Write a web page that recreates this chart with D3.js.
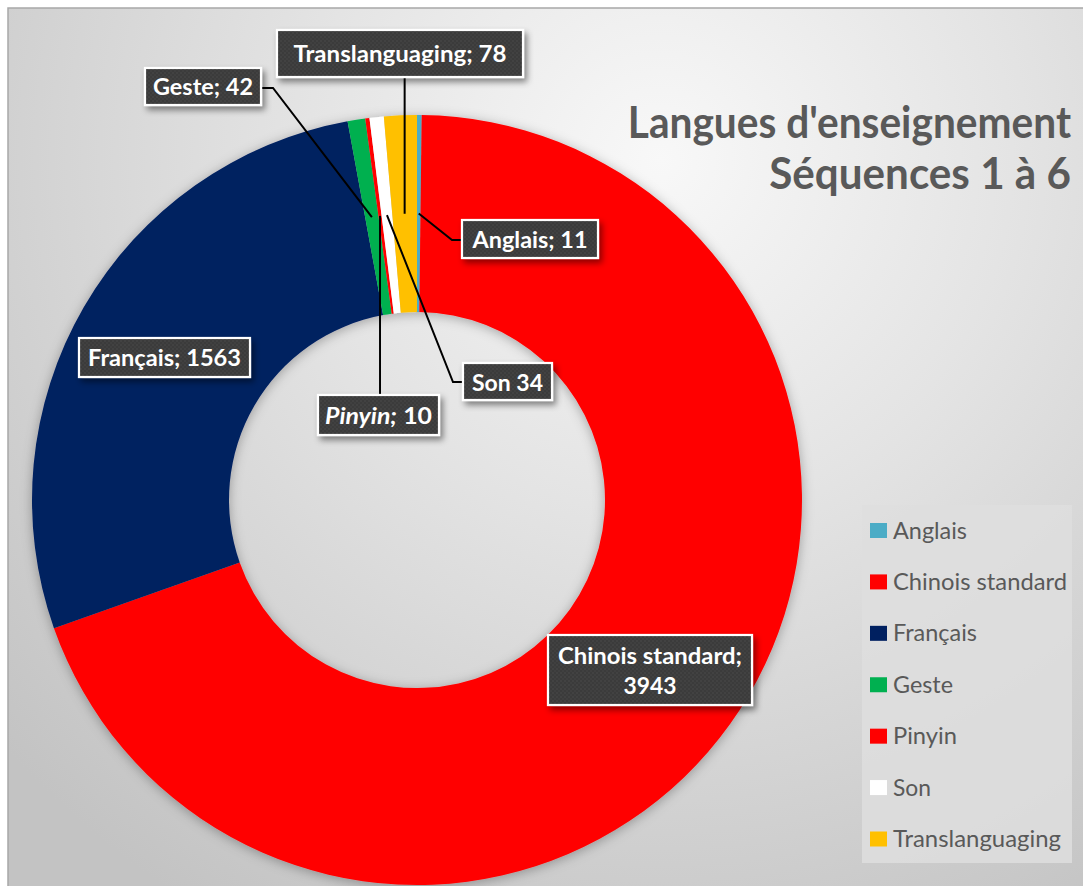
<!DOCTYPE html>
<html><head><meta charset="utf-8">
<script src="https://cdn.jsdelivr.net/npm/d3@7"></script>
<style>
html,body{margin:0;padding:0;background:#fff;}
svg{display:block;font-family:Lato,"Open Sans",sans-serif;}
</style></head>
<body>
<svg id="chart" width="1083" height="886"></svg>
<script>
// ---- data ----
const categories = ["Anglais","Chinois standard","Français","Geste","Pinyin","Son","Translanguaging"];
const values = [11, 3943, 1563, 42, 10, 34, 78];
const colors = ["#4bacc6","#ff0000","#002060","#00b050","#ff0000","#ffffff","#ffc000"];
const labelTexts = ["Anglais; 11","Chinois standard;|3943","Français; 1563","Geste; 42","Pinyin; 10","Son 34","Translanguaging; 78"];
const titleLines = ["Langues d'enseignement","Séquences 1 à 6"];

const W = 1083, H = 886;
const svg = d3.select("#chart");
const defs = svg.append("defs");

// background gradient
const rg = defs.append("radialGradient").attr("id","bg")
  .attr("gradientUnits","userSpaceOnUse").attr("cx",660).attr("cy",160).attr("r",880);
rg.append("stop").attr("offset","0").attr("stop-color","#f8f8f8");
rg.append("stop").attr("offset","0.4").attr("stop-color","#e4e4e4");
rg.append("stop").attr("offset","1").attr("stop-color","#c3c3c3");

const sh = defs.append("filter").attr("id","pieShadow").attr("x","-20%").attr("y","-20%").attr("width","140%").attr("height","140%");
sh.append("feDropShadow").attr("dx",0).attr("dy",2).attr("stdDeviation",6).attr("flood-color","#000").attr("flood-opacity",0.3);
const bsh = defs.append("filter").attr("id","boxShadow").attr("x","-20%").attr("y","-40%").attr("width","150%").attr("height","200%");
bsh.append("feDropShadow").attr("dx",3).attr("dy",4).attr("stdDeviation",3).attr("flood-color","#000").attr("flood-opacity",0.45);

const pat = defs.append("pattern").attr("id","dots").attr("width",4).attr("height",4).attr("patternUnits","userSpaceOnUse");
pat.append("rect").attr("width",4).attr("height",4).attr("fill","#3b3b3b");
pat.append("circle").attr("cx",1).attr("cy",1).attr("r",0.8).attr("fill","#4a4a4a");
pat.append("circle").attr("cx",3).attr("cy",3).attr("r",0.8).attr("fill","#474747");

// chart area
svg.append("rect").attr("x",8).attr("y",8).attr("width",W).attr("height",H)
  .attr("fill","url(#bg)").attr("stroke","#a8a8a8").attr("stroke-width",1.5);

// donut
const cx = 417, cy = 500, rOuter = 385, rInner = 188;
const pie = d3.pie().sort(null).value(d => d.v).startAngle(0).endAngle(2*Math.PI);
const data = categories.map((c,i) => ({name:c, v:values[i], color:colors[i], label:labelTexts[i]}));
const arcs = pie(data);
const arc = d3.arc().innerRadius(rInner).outerRadius(rOuter);
const midArc = d3.arc().innerRadius((rInner+rOuter)/2).outerRadius((rInner+rOuter)/2);

const g = svg.append("g").attr("transform",`translate(${cx},${cy})`);
g.append("g").attr("filter","url(#pieShadow)")
  .selectAll("path").data(arcs).join("path")
  .attr("d", arc).attr("fill", d => d.data.color);

// label layout (box rect, text baselines, leader path from centroid)
const layout = {
  "Anglais": {box:[462,220,136,38], base:[248], tw:[115], leader:[[452,240],[462,240]]},
  "Chinois standard": {box:[548,635,204,70], base:[664,694], tw:[184,53]},
  "Français": {box:[79,338,171,39], base:[366], tw:[153]},
  "Geste": {box:[145,68,116,37], base:[95], tw:[100], leader:[[273,88],[261,88]]},
  "Pinyin": {box:[318,395,121,40], base:[424], tw:[107], leader:"vertical"},
  "Son": {box:[463,363,89,37], base:[391], tw:[71], leader:[[453,382],[463,382]]},
  "Translanguaging": {box:[277,30,246,47], base:[62], tw:[213], leader:"vertical"}
};

const lg = svg.append("g");
arcs.forEach(a => {
  const L = layout[a.data.name];
  const c = midArc.centroid(a);
  const sx = cx + c[0], sy = cy + c[1];
  const [bx,by,bw,bh] = L.box;
  let pts = null;
  if (L.leader === "vertical") {
    const ey = (sy < by) ? by : by + bh;
    pts = [[sx,sy],[sx,ey]];
  } else if (L.leader) {
    pts = [[sx,sy]].concat(L.leader);
  }
  if (pts) {
    lg.append("path").attr("d", d3.line()(pts)).attr("fill","none")
      .attr("stroke","#000").attr("stroke-width",2);
  }
});

const labG = svg.append("g");
arcs.forEach(a => {
  const L = layout[a.data.name];
  const [bx,by,bw,bh] = L.box;
  const gg = labG.append("g");
  gg.append("rect").attr("x",bx).attr("y",by).attr("width",bw).attr("height",bh)
    .attr("fill","url(#dots)").attr("stroke","#fff").attr("stroke-width",2.2)
    .attr("filter","url(#boxShadow)");
  const lines = a.data.label.split("|");
  lines.forEach((ln,i) => {
    const t = gg.append("text").attr("x",bx+bw/2).attr("y",L.base[i])
      .attr("text-anchor","middle").attr("fill","#fff").attr("font-weight","bold")
      .attr("font-size",22).attr("textLength",L.tw[i]).attr("lengthAdjust","spacingAndGlyphs");
    if (a.data.name === "Pinyin") {
      const parts = ln.split(";");
      t.append("tspan").attr("font-style","italic").text(parts[0]+";");
      t.append("tspan").text(parts.slice(1).join(";"));
    } else {
      t.text(ln);
    }
  });
});

// title (scaled to mimic the narrow, tall original face)
const tg = svg.append("g").attr("fill","#595959").attr("font-weight","bold").attr("font-size",40);
tg.append("g").attr("transform","translate(1071,138) scale(1.016,1.12)")
  .append("text").attr("text-anchor","end").text(titleLines[0]);
tg.append("g").attr("transform","translate(1071,189) scale(1.055,1.12)")
  .append("text").attr("text-anchor","end").text(titleLines[1]);

// legend
const legW = [74,174,84,60,64,38,168];
const leg = svg.append("g");
leg.append("rect").attr("x",862).attr("y",505).attr("width",210).attr("height",358)
  .attr("fill","#dedede").attr("opacity",0.85);
const ly = d3.scalePoint().domain(categories).range([530.5, 839]);
categories.forEach((c,i) => {
  const y = ly(c);
  leg.append("rect").attr("x",870).attr("y",y-7.5).attr("width",17).attr("height",15)
    .attr("fill",colors[i]);
  leg.append("text").attr("x",893).attr("y",y+8).attr("fill","#595959")
    .attr("font-size",23).attr("textLength",legW[i]).attr("lengthAdjust","spacingAndGlyphs").text(c);
});
</script>
</body></html>
